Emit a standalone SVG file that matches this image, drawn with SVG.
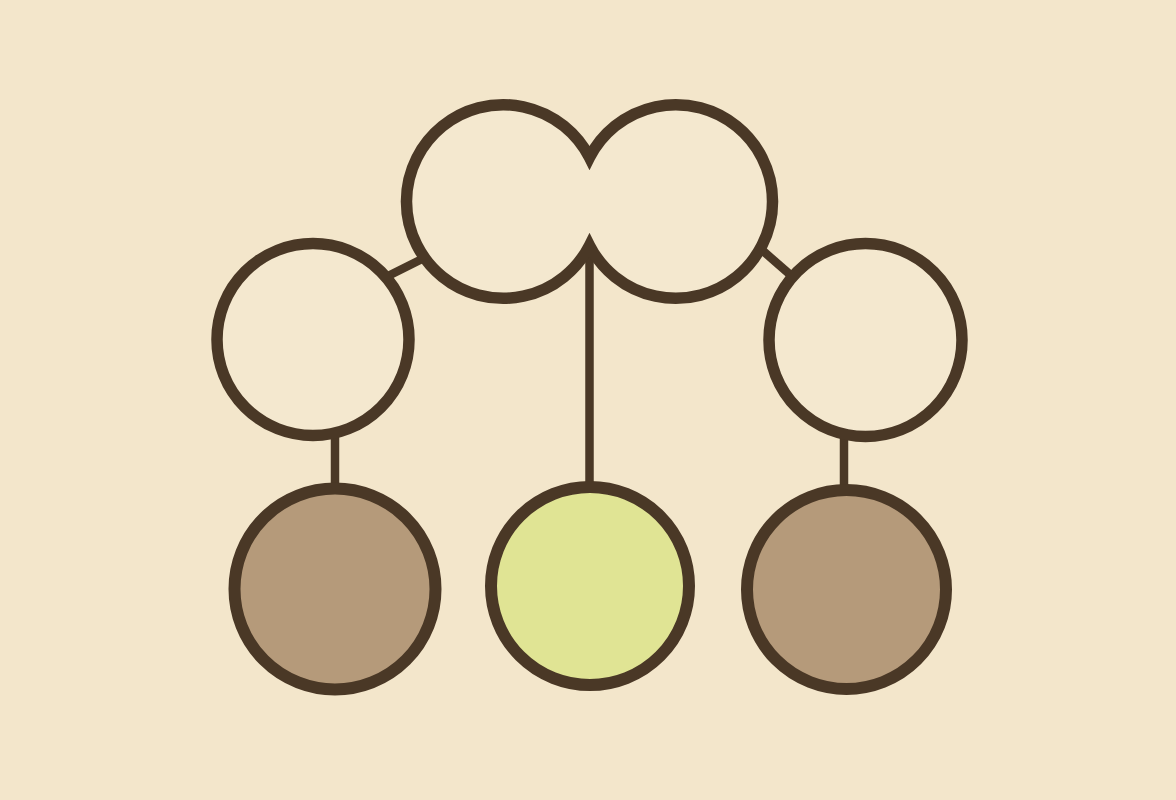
<svg xmlns="http://www.w3.org/2000/svg" width="1176" height="800" viewBox="0 0 1176 800">
  <style>
    .ring { stroke: #4a3826; stroke-width: 11.5; stroke-linejoin: miter; }
    .open { fill: #f4e8cf; }
    .brown { fill: #b59a7a; }
    .green { fill: #e0e494; }
    .link { stroke: #4a3826; stroke-width: 8.5; fill: none; stroke-linecap: butt; }
  </style>
  <rect x="0" y="0" width="1176" height="800" fill="#f3e6cb"/>
  <g id="connectors">
    <line class="link" x1="388" y1="276" x2="421" y2="259.5"/>
    <line class="link" x1="762" y1="250" x2="790" y2="274.5"/>
    <line class="link" x1="335" y1="435" x2="335" y2="488"/>
    <line class="link" x1="589.5" y1="240" x2="589.5" y2="486"/>
    <line class="link" x1="844" y1="435" x2="844" y2="488"/>
  </g>
  <g id="couple">
    <path class="ring open" d="M 589.5 157.5 A 96.8 96.8 0 1 0 589.5 245.5 A 96.8 96.8 0 1 0 589.5 157.5 Z"/>
  </g>
  <g id="parent-left">
    <circle class="ring open" cx="313" cy="339.5" r="96"/>
  </g>
  <g id="parent-right">
    <circle class="ring open" cx="865.5" cy="340" r="96.5"/>
  </g>
  <g id="child-left">
    <circle class="ring brown" cx="335" cy="589" r="100.5" style="stroke-width:12"/>
  </g>
  <g id="child-center">
    <circle class="ring green" cx="590" cy="586" r="99" style="stroke-width:12"/>
  </g>
  <g id="child-right">
    <circle class="ring brown" cx="846.5" cy="589.5" r="99.5" style="stroke-width:12"/>
  </g>
</svg>
